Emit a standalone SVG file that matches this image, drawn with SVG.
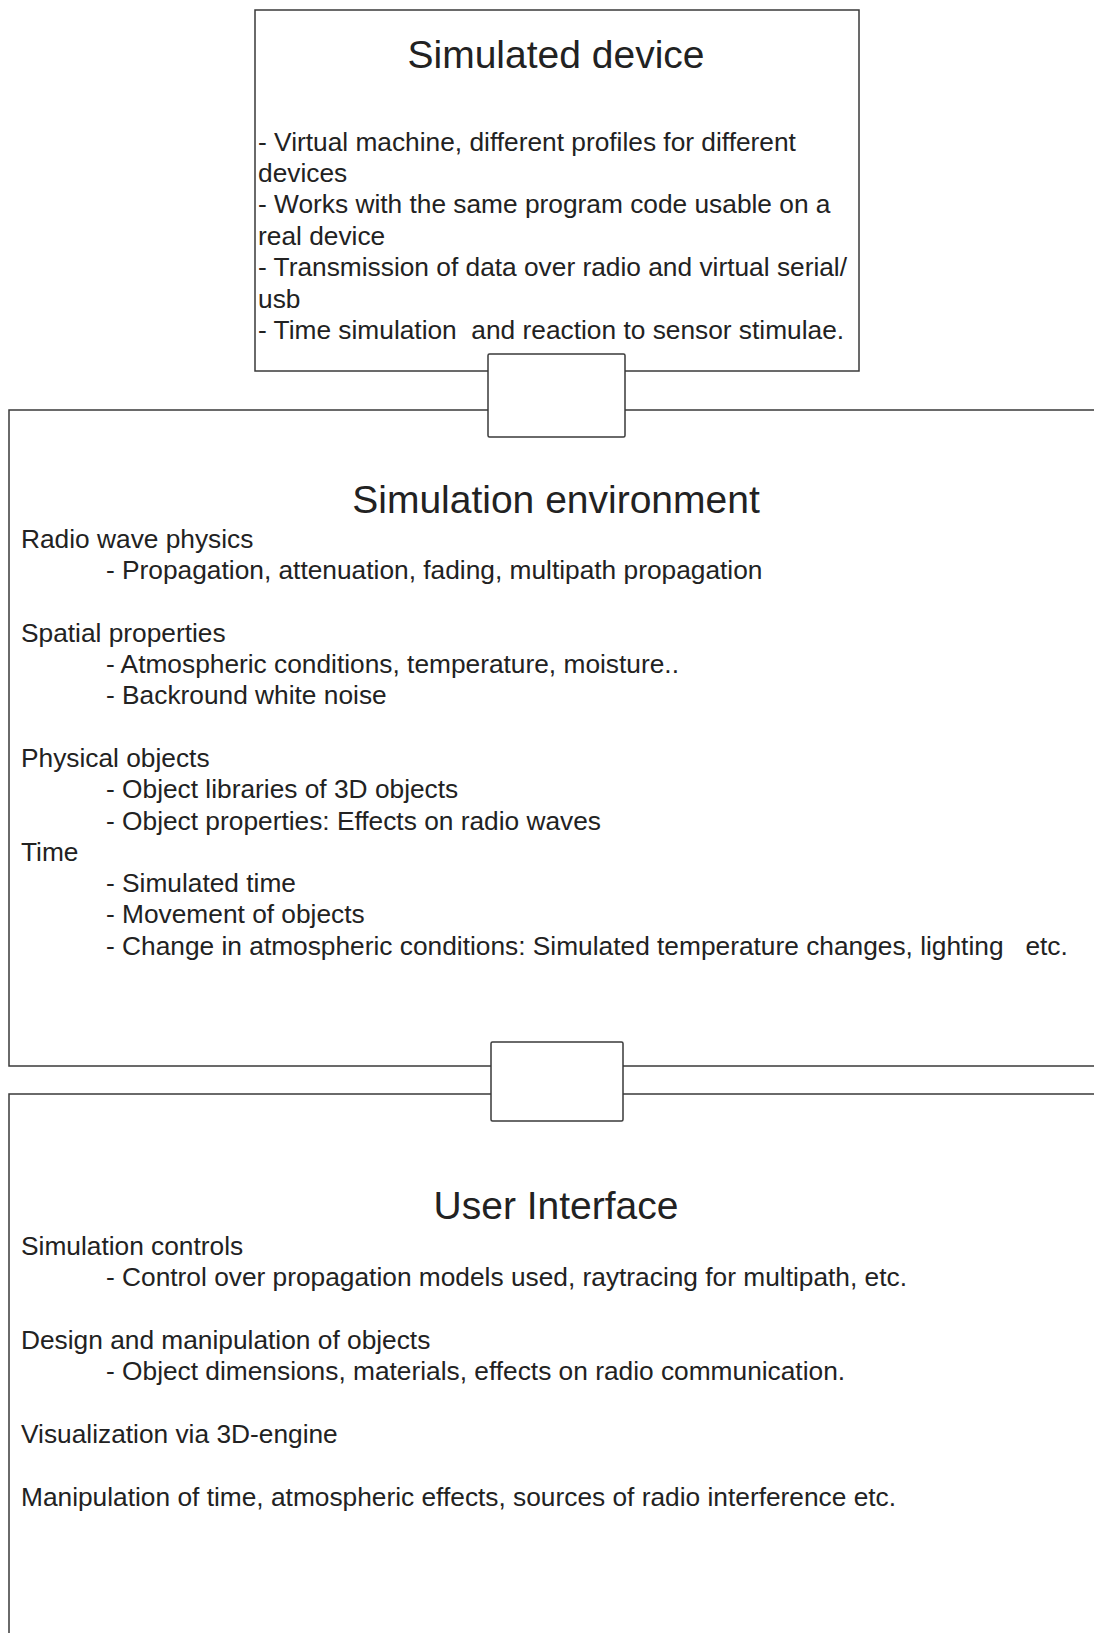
<svg xmlns="http://www.w3.org/2000/svg" width="1094" height="1633" viewBox="0 0 1094 1633">
<style>
.box{fill:#fff;stroke:#3a3a3a;stroke-width:1.5}
.conn{fill:#fff;stroke:#3a3a3a;stroke-width:1.5}
.t{font-family:"Liberation Sans",Arial,sans-serif;fill:#222;white-space:pre}
.title{font-size:39px;text-anchor:middle}
.body{font-size:26.3px}
</style>
<rect width="1094" height="1633" fill="#fff"/>
<g id="simulated-device">
<rect class="box" x="255" y="10" width="604" height="361"/>
<text class="t title" x="556" y="68">Simulated device</text>
<text class="t body" x="258" y="151">- Virtual machine, different profiles for different</text>
<text class="t body" x="258" y="182">devices</text>
<text class="t body" x="258" y="213">- Works with the same program code usable on a</text>
<text class="t body" x="258" y="245">real device</text>
<text class="t body" x="258" y="276">- Transmission of data over radio and virtual serial/</text>
<text class="t body" x="258" y="308">usb</text>
<text class="t body" x="258" y="339">- Time simulation  and reaction to sensor stimulae.</text>
</g>
<g id="simulation-environment">
<rect class="box" x="9" y="410" width="1110" height="656"/>
<text class="t title" x="556" y="513">Simulation environment</text>
<text class="t body" x="21" y="548">Radio wave physics</text>
<text class="t body" x="106" y="579">- Propagation, attenuation, fading, multipath propagation</text>
<text class="t body" x="21" y="642">Spatial properties</text>
<text class="t body" x="106" y="673">- Atmospheric conditions, temperature, moisture..</text>
<text class="t body" x="106" y="704">- Backround white noise</text>
<text class="t body" x="21" y="767">Physical objects</text>
<text class="t body" x="106" y="798">- Object libraries of 3D objects</text>
<text class="t body" x="106" y="830">- Object properties: Effects on radio waves</text>
<text class="t body" x="21" y="861">Time</text>
<text class="t body" x="106" y="892">- Simulated time</text>
<text class="t body" x="106" y="923">- Movement of objects</text>
<text class="t body" x="106" y="955">- Change in atmospheric conditions: Simulated temperature changes, lighting   etc.</text>
</g>
<g id="user-interface">
<rect class="box" x="9" y="1094" width="1110" height="560"/>
<text class="t title" x="556" y="1219">User Interface</text>
<text class="t body" x="21" y="1255">Simulation controls</text>
<text class="t body" x="106" y="1286">- Control over propagation models used, raytracing for multipath, etc.</text>
<text class="t body" x="21" y="1349">Design and manipulation of objects</text>
<text class="t body" x="106" y="1380">- Object dimensions, materials, effects on radio communication.</text>
<text class="t body" x="21" y="1443">Visualization via 3D-engine</text>
<text class="t body" x="21" y="1506">Manipulation of time, atmospheric effects, sources of radio interference etc.</text>
</g>
<g id="connectors">
<rect class="conn" x="488" y="354" width="137" height="83" rx="1.5"/>
<rect class="conn" x="491" y="1042" width="132" height="79" rx="1.5"/>
</g>
</svg>
